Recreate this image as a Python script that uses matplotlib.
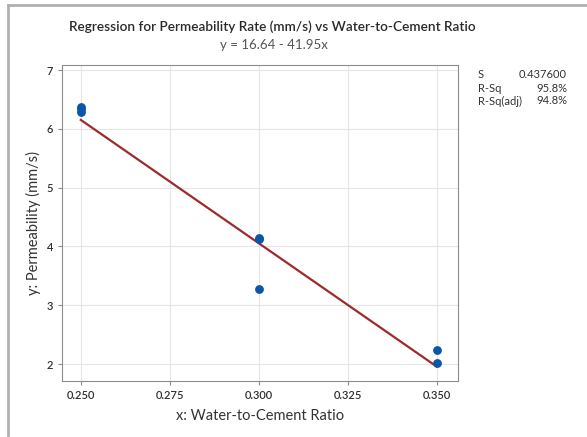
import matplotlib
matplotlib.use("Agg")
import matplotlib.pyplot as plt
from matplotlib.lines import Line2D

plt.rcParams['font.family'] = ['Lato', 'DejaVu Sans']

# data
x_ratio = [0.25, 0.25, 0.25, 0.30, 0.30, 0.30, 0.35, 0.35]
y_perm = [6.38, 6.33, 6.28, 4.14, 4.12, 3.28, 2.23, 2.01]
intercept = 16.64
slope = -41.95
stat_names = ['S', 'R-Sq', 'R-Sq(adj)']
stat_values = ['0.437600', '95.8%', '94.8%']
x_ticks = [0.250, 0.275, 0.300, 0.325, 0.350]
y_ticks = [2, 3, 4, 5, 6, 7]

fig = plt.figure(figsize=(5.87, 4.37), dpi=100)
ax = fig.add_axes([0.1056, 0.128, 0.674, 0.723])

xl = [min(x_ratio), max(x_ratio)]
ax.plot(xl, [intercept + slope * v for v in xl], color='#9e2a2b', lw=1.6, zorder=2)
ax.scatter(x_ratio, y_perm, s=40, color='#0a56a8', zorder=3, linewidths=0)

ax.set_xlim(0.2447, 0.3559)
ax.set_ylim(1.71, 7.085)
ax.set_xticks(x_ticks)
ax.set_xticklabels(['%.3f' % t for t in x_ticks])
ax.set_yticks(y_ticks)
ax.grid(True, color='#e6e6e6', lw=0.8)
ax.set_axisbelow(True)
for s in ax.spines.values():
    s.set_color('#8c8c8c')
    s.set_linewidth(0.8)
ax.tick_params(labelsize=8, colors='#8c8c8c', labelcolor='#303030', length=3, width=0.8)
for lab in ax.get_xticklabels() + ax.get_yticklabels():
    lab.set_fontweight('semibold')

ax.set_xlabel('x: Water-to-Cement Ratio', fontsize=10.5, color='#333333', labelpad=6)
ax.set_ylabel('y: Permeability (mm/s)', fontsize=10.5, color='#333333', labelpad=4)

fig.text(0.464, 0.938, 'Regression for Permeability Rate (mm/s) vs Water-to-Cement Ratio',
         ha='center', va='center', fontsize=9.8, color='#2a2a2a', fontweight='semibold')
fig.text(0.466, 0.897, 'y = 16.64 - 41.95x', ha='center', va='center',
         fontsize=9.5, color='#555555')

for i in range(len(stat_names)):
    yy = 1 - (75 + 13 * i) / 437
    fig.text(478 / 587, yy, stat_names[i], ha='left', va='center', fontsize=8, color='#333333')
    fig.text(567 / 587, yy, stat_values[i], ha='right', va='center', fontsize=8, color='#333333')

# outer window border
fig.add_artist(Line2D([8 / 587, 8 / 587], [1 - 435 / 437, 1 - 5 / 437],
                      transform=fig.transFigure, color='#b0b0b0', lw=2))
fig.add_artist(Line2D([8 / 587, 1], [1 - 5 / 437, 1 - 5 / 437],
                      transform=fig.transFigure, color='#b0b0b0', lw=2))

fig.savefig('out.png', dpi=100)
